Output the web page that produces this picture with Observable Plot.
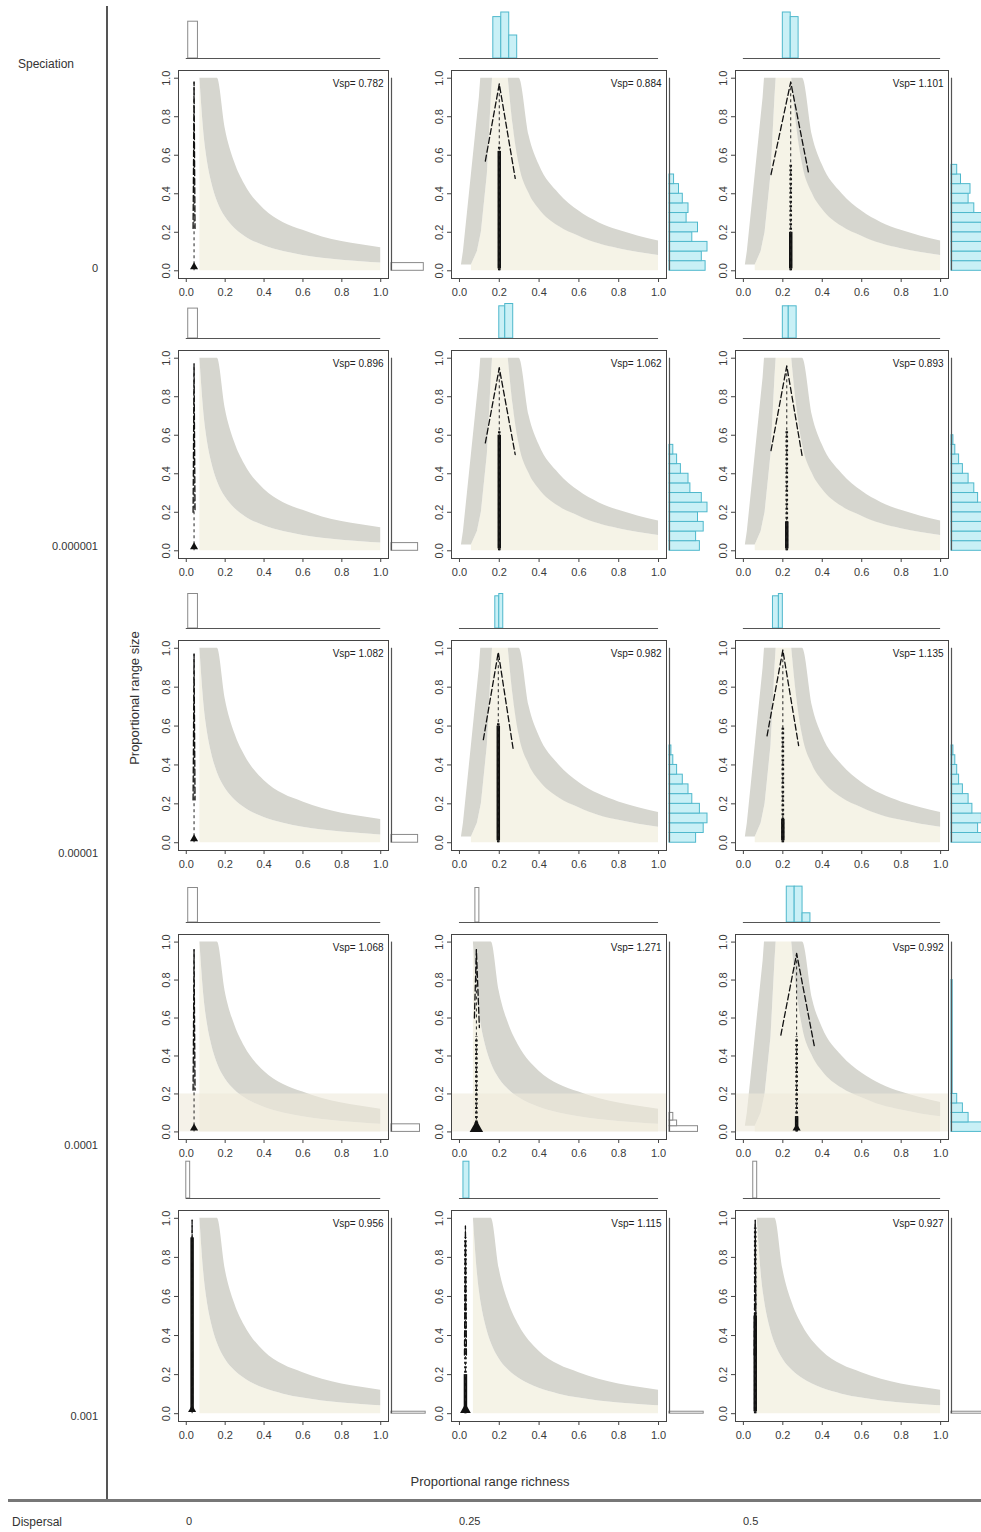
<!DOCTYPE html>
<html><head><meta charset="utf-8">
<script src="https://cdn.jsdelivr.net/npm/d3@7"></script>
<script src="https://cdn.jsdelivr.net/npm/@observablehq/plot@0.6"></script>
<style>
body{margin:0;background:#fff;font-family:"Liberation Sans",Arial,sans-serif;color:#333}
#root{position:relative;width:981px;height:1532px;overflow:hidden}
.lbl{position:absolute;font-size:11px;color:#333;white-space:nowrap}
</style></head>
<body><div id="root"></div>
<script>
// ---------------- data ----------------
const speciation = ["0", "0.000001", "0.00001", "0.0001", "0.001"];
const dispersal = ["0", "0.25", "0.5"];
const vsp = [[0.782, 0.884, 1.101], [0.896, 1.062, 0.893], [1.082, 0.982, 1.135], [1.068, 1.271, 0.992], [0.956, 1.115, 0.927]];
const envType = [["A","B","B"],["A","B","B"],["A","B","B"],["A","A","B"],["A","A","A"]];
const floorTop = [0, 0, 0, 0.2, 0];
const axisTicks = [0, 0.2, 0.4, 0.6, 0.8, 1.0];

// envelope A (hyperbolic band)
const envAx  = [0.07, 0.09, 0.11, 0.13, 0.16, 0.2, 0.25, 0.3, 0.4, 0.5, 0.6, 0.7, 0.8, 0.9, 1.0];
const envAhi = [1, 1, 1, 1, 1, 0.74, 0.56, 0.45, 0.32, 0.25, 0.21, 0.176, 0.152, 0.135, 0.12];
const envAlo = [1, 0.72, 0.56, 0.46, 0.36, 0.28, 0.22, 0.18, 0.13, 0.1, 0.08, 0.065, 0.055, 0.047, 0.04];
// envelope B (peaked at 0.2): left shoulder + right band
const envBy        = [0.03, 0.1, 0.2, 0.3, 0.4, 0.5, 0.6, 0.7, 0.8, 0.9, 1.0];
const envBleftOut  = [0.01, 0.02, 0.03, 0.04, 0.05, 0.06, 0.07, 0.08, 0.09, 0.1, 0.107];
const envBleftIn   = [0.06, 0.09, 0.11, 0.12, 0.13, 0.14, 0.145, 0.15, 0.155, 0.16, 0.166];
const envBx  = [0.245, 0.27, 0.3, 0.35, 0.4, 0.5, 0.6, 0.7, 0.8, 0.9, 1.0];
const envBhi = [1, 1, 1, 0.7, 0.55, 0.4, 0.31, 0.25, 0.21, 0.18, 0.155];
const envBlo = [1, 0.75, 0.55, 0.4, 0.32, 0.23, 0.18, 0.14, 0.115, 0.095, 0.08];

// observed species: tent (dashed) lines and point strip
const peakX      = [[0.04, 0.2, 0.24], [0.04, 0.2, 0.22], [0.04, 0.195, 0.2], [0.04, 0.085, 0.27], [0.03, 0.03, 0.06]];
const peakY      = [[0.98, 0.97, 0.98], [0.97, 0.95, 0.96], [0.97, 0.98, 0.99], [0.96, 0.96, 0.94], [0.99, 0.96, 0.99]];
const tentLeftX  = [[0.035, 0.13, 0.14], [0.035, 0.13, 0.14], [0.035, 0.12, 0.12], [0.035, 0.075, 0.19], [0.028, 0.025, 0.055]];
const tentLeftY  = [[0.22, 0.57, 0.5], [0.2, 0.56, 0.52], [0.22, 0.53, 0.55], [0.22, 0.6, 0.51], [0.05, 0.3, 0.3]];
const tentRightX = [[0.045, 0.28, 0.33], [0.045, 0.28, 0.3], [0.045, 0.27, 0.28], [0.045, 0.1, 0.36], [0.032, 0.035, 0.065]];
const tentRightY = [[0.22, 0.48, 0.51], [0.2, 0.5, 0.48], [0.22, 0.48, 0.5], [0.22, 0.55, 0.45], [0.05, 0.3, 0.3]];
const denseHi    = [[0.03, 0.62, 0.2], [0.03, 0.6, 0.15], [0.03, 0.6, 0.12], [0.03, 0.05, 0.08], [0.9, 0.2, 0.5]];
const sparseHi   = [[0, 0.65, 0.55], [0, 0.62, 0.62], [0, 0.62, 0.6], [0, 0.5, 0.5], [0, 0.9, 0.95]];
const blobR      = [[3, 0, 0], [3, 0, 0], [3, 0, 0], [3, 5, 3], [3, 4, 0]];

// marginal histograms: [x0, x1, relative height]
const topHist = [
  [[[0.01, 0.06, 0.8]], [[0.17, 0.21, 0.9], [0.21, 0.25, 1.0], [0.25, 0.29, 0.5]], [[0.2, 0.24, 1.0], [0.24, 0.28, 0.9]]],
  [[[0.01, 0.06, 0.65]], [[0.2, 0.23, 0.7], [0.23, 0.27, 0.75]], [[0.2, 0.23, 0.7], [0.23, 0.27, 0.7]]],
  [[[0.01, 0.06, 0.75]], [[0.18, 0.2, 0.7], [0.2, 0.22, 0.75]], [[0.15, 0.18, 0.7], [0.18, 0.2, 0.75]]],
  [[[0.01, 0.06, 0.75]], [[0.08, 0.1, 0.75]], [[0.22, 0.26, 0.78], [0.26, 0.3, 0.78], [0.3, 0.34, 0.2]]],
  [[[0.0, 0.02, 0.8]], [[0.02, 0.05, 0.8]], [[0.05, 0.07, 0.8]]]
];
const topHistSig = [[false, true, true], [false, true, true], [false, true, true], [false, false, true], [false, true, false]];
// right histograms: [y0, y1, relative width]
const rightHist = [
  [[[0, 0.04, 0.85]],
   [[0,0.05,0.95],[0.05,0.1,0.85],[0.1,0.15,1.0],[0.15,0.2,0.6],[0.2,0.25,0.75],[0.25,0.3,0.45],[0.3,0.35,0.5],[0.35,0.4,0.35],[0.4,0.45,0.25],[0.45,0.5,0.12]],
   [[0,0.05,1],[0.05,0.1,0.9],[0.1,0.15,1],[0.15,0.2,0.95],[0.2,0.25,0.8],[0.25,0.3,0.85],[0.3,0.35,0.6],[0.35,0.4,0.45],[0.4,0.45,0.5],[0.45,0.5,0.25],[0.5,0.55,0.15]]],
  [[[0, 0.04, 0.7]],
   [[0,0.05,0.8],[0.05,0.1,0.7],[0.1,0.15,0.9],[0.15,0.2,0.75],[0.2,0.25,1.0],[0.25,0.3,0.85],[0.3,0.35,0.55],[0.35,0.4,0.5],[0.4,0.45,0.3],[0.45,0.5,0.2],[0.5,0.55,0.1]],
   [[0,0.05,0.9],[0.05,0.1,0.85],[0.1,0.15,1],[0.15,0.2,0.9],[0.2,0.25,0.95],[0.25,0.3,0.7],[0.3,0.35,0.6],[0.35,0.4,0.45],[0.4,0.45,0.3],[0.45,0.5,0.2],[0.5,0.55,0.1],[0.55,0.6,0.05]]],
  [[[0, 0.04, 0.7]],
   [[0,0.05,0.7],[0.05,0.1,0.9],[0.1,0.15,1],[0.15,0.2,0.8],[0.2,0.25,0.6],[0.25,0.3,0.5],[0.3,0.35,0.35],[0.35,0.4,0.2],[0.4,0.45,0.1],[0.45,0.5,0.05]],
   [[0,0.05,0.95],[0.05,0.1,0.7],[0.1,0.15,0.8],[0.15,0.2,0.55],[0.2,0.25,0.45],[0.25,0.3,0.3],[0.3,0.35,0.2],[0.35,0.4,0.15],[0.4,0.45,0.1],[0.45,0.5,0.05]]],
  [[[0, 0.04, 0.75]],
   [[0,0.03,0.75],[0.03,0.06,0.2],[0.06,0.1,0.1]],
   [[0,0.05,0.9],[0.05,0.1,0.45],[0.1,0.15,0.3],[0.15,0.2,0.15],[0.2,0.8,0.03]]],
  [[[0, 0.01, 0.9]], [[0, 0.01, 0.9]], [[0, 0.01, 0.9]]]
];
const rightHistSig = [[false, true, true], [false, true, true], [false, true, true], [false, false, true], [false, false, false]];

// ---------------- layout / style ----------------
const ML = 26, MR = 4, MT = 4, MB = 26;
const colLeft = [178, 451, 735], colW = [210, 215, 213];
const rowTop = [70, 350, 640, 934, 1210], rowH = [208, 208, 210, 205, 211];
const rowLabelTop = [262, 540, 847, 1139, 1410];
const xDom = [-0.04, 1.04];
const GRAY = "#d6d6cf", BEIGE = "#f5f3e7", BEIGE2 = "#efeadb";
const CYAN_F = "#c9f0f6", CYAN_S = "#4fb8cc", GRAY_S = "#8a8a8a";
const fmt = d3.format(".1f");
const style = {fontFamily: "'Liberation Sans', Arial, sans-serif", fontSize: "11px", color: "#3a3a3a", background: "transparent", overflow: "visible"};
const root = document.getElementById("root");
function place(el, left, top) {
  el.style.position = "absolute"; el.style.left = left + "px"; el.style.top = top + "px";
  root.append(el);
}
function label(txt, left, top, extra) {
  const d = document.createElement("div"); d.className = "lbl"; d.textContent = txt;
  d.style.left = left + "px"; d.style.top = top + "px";
  if (extra) Object.assign(d.style, extra);
  root.append(d); return d;
}

// ---------------- panels ----------------
for (let r = 0; r < 5; r++) {
  for (let c = 0; c < 3; c++) {
    const fw = colW[c], fh = rowH[r];
    const marks = [];
    if (envType[r][c] === "A") {
      const env = envAx.map((x, i) => ({x, hi: envAhi[i], lo: envAlo[i]}));
      marks.push(Plot.areaY(env, {x: "x", y1: 0, y2: "lo", fill: BEIGE, curve: "monotone-x"}));
      marks.push(Plot.areaY(env, {x: "x", y1: "lo", y2: "hi", fill: GRAY, curve: "monotone-x"}));
    } else {
      const env = envBx.map((x, i) => ({x, hi: envBhi[i], lo: envBlo[i]}));
      const sh = envBy.map((y, i) => ({y, a: envBleftOut[i], b: envBleftIn[i]}));
      const beige = [...sh.map(d => ({x: d.b, y: d.y})), ...env.map(d => ({x: d.x, y: d.lo}))];
      marks.push(Plot.areaY(beige, {x: "x", y1: 0, y2: "y", fill: BEIGE}));
      marks.push(Plot.areaX(sh, {y: "y", x1: "a", x2: "b", fill: GRAY}));
      marks.push(Plot.areaY(env, {x: "x", y1: "lo", y2: "hi", fill: GRAY, curve: "monotone-x"}));
    }
    if (floorTop[r] > 0) {
      marks.push(Plot.rect([{top: floorTop[r]}], {y1: 0, y2: "top", fill: BEIGE2, fillOpacity: 0.6}));
    }
    const px = peakX[r][c], py = peakY[r][c];
    if (sparseHi[r][c] > 0) {
      marks.push(Plot.ruleX([{x: px, y2: sparseHi[r][c]}], {x: "x", y1: 0, y2: "y2", stroke: "#111", strokeWidth: 2.6, strokeDasharray: "2,2.5"}));
    }
    marks.push(Plot.ruleX([{x: px, y2: denseHi[r][c]}], {x: "x", y1: 0.01, y2: "y2", stroke: "#111", strokeWidth: c === 0 && r < 4 ? 2 : 3.5}));
    marks.push(Plot.ruleX([{x: px, y2: py}], {x: "x", y1: 0, y2: "y2", stroke: "#222", strokeWidth: 1, strokeDasharray: "3,3"}));
    const tent = [{x: tentLeftX[r][c], y: tentLeftY[r][c]}, {x: px, y: py}, {x: tentRightX[r][c], y: tentRightY[r][c]}];
    marks.push(Plot.line(tent, {x: "x", y: "y", stroke: "#111", strokeWidth: 1.3, strokeDasharray: "6,3"}));
    if (blobR[r][c] > 0) {
      marks.push(Plot.dot([{x: px, y: 0.02}], {x: "x", y: "y", r: blobR[r][c], symbol: "triangle", fill: "#111"}));
    }
    marks.push(Plot.text([vsp[r][c]], {text: d => "Vsp= " + d.toFixed(3), frameAnchor: "top-right", dx: -5, dy: 9, fontSize: 10, fill: "#222"}));
    marks.push(Plot.frame({stroke: "#444", strokeWidth: 1}));
    marks.push(Plot.axisX({ticks: axisTicks, tickFormat: fmt, tickSize: 4, tickPadding: 6, stroke: "#444", label: null}));
    marks.push(Plot.axisY({ticks: axisTicks, tickFormat: fmt, tickSize: 4, tickRotate: -90, stroke: "#444", label: null}));

    const main = Plot.plot({
      width: fw + ML + MR, height: fh + MT + MB,
      marginLeft: ML, marginRight: MR, marginTop: MT, marginBottom: MB,
      x: {domain: xDom, label: null}, y: {domain: xDom, label: null},
      style, marks
    });
    place(main, colLeft[c] - ML, rowTop[r] - MT);

    const tsig = topHistSig[r][c];
    const tb = topHist[r][c].map(([x1, x2, h]) => ({x1, x2, h}));
    const top = Plot.plot({
      width: fw + ML + MR, height: 48,
      marginLeft: ML, marginRight: MR, marginTop: 2, marginBottom: 0,
      x: {domain: xDom, axis: null}, y: {domain: [0, 1], axis: null},
      style,
      marks: [
        Plot.rectY(tb, {x1: "x1", x2: "x2", y1: 0, y2: "h", fill: tsig ? CYAN_F : "white", stroke: tsig ? CYAN_S : GRAY_S, strokeWidth: 1}),
        Plot.ruleY([0], {x1: axisTicks[0], x2: axisTicks[axisTicks.length - 1], stroke: "#555", strokeWidth: 1.2})
      ]
    });
    place(top, colLeft[c] - ML, rowTop[r] - 12 - 48);

    const rsig = rightHistSig[r][c];
    const rb = rightHist[r][c].map(([y1, y2, w]) => ({y1, y2, w}));
    const right = Plot.plot({
      width: 42, height: fh + MT + MB,
      marginLeft: 0, marginRight: 4, marginTop: MT, marginBottom: MB,
      x: {domain: [0, 1], axis: null}, y: {domain: xDom, axis: null},
      style,
      marks: [
        Plot.rectX(rb, {y1: "y1", y2: "y2", x1: 0, x2: "w", fill: rsig ? CYAN_F : "white", stroke: rsig ? CYAN_S : GRAY_S, strokeWidth: 1}),
        Plot.ruleX([0], {y1: axisTicks[0], y2: axisTicks[axisTicks.length - 1], stroke: "#555", strokeWidth: 1.2})
      ]
    });
    place(right, colLeft[c] + fw + 3, rowTop[r] - MT);
  }
}

// ---------------- frame labels ----------------
label("Speciation", 18, 57, {fontSize: "12px"});
speciation.forEach((s, r) => {
  label(s, 0, rowLabelTop[r], {width: "98px", textAlign: "right", fontSize: "11px"});
});
label("Dispersal", 12, 1515, {fontSize: "12px", color: "#333"});
dispersal.forEach((s, c) => label(s, colLeft[c] + 8, 1515, {fontSize: "11px"}));
label("Proportional range richness", 0, 1474, {width: "980px", textAlign: "center", fontSize: "13px"});
label("Proportional range size", 35, 690, {width: "200px", textAlign: "center", fontSize: "13px", transform: "rotate(-90deg)", transformOrigin: "100px 8px"});

const vline = document.createElement("div");
Object.assign(vline.style, {position: "absolute", left: "106px", top: "6px", width: "2px", height: "1494px", background: "#555"});
root.append(vline);
const hline = document.createElement("div");
Object.assign(hline.style, {position: "absolute", left: "8px", top: "1499px", width: "973px", height: "3px", background: "#777"});
root.append(hline);
</script>
</body></html>
